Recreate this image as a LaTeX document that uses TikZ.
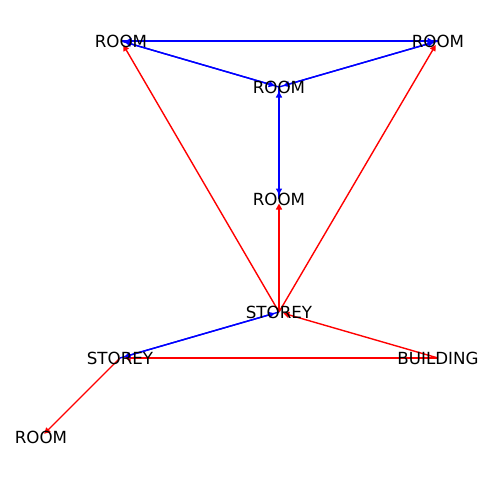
\documentclass[tikz,border=0pt]{standalone}
\usepackage{fontspec}
\setmainfont{DejaVu Sans}
\usetikzlibrary{arrows.meta,backgrounds}

\tikzset{
    lbl/.style={inner sep=0pt, font=\fontsize{16.7}{20}\selectfont},
    edge/.style={line width=1.4pt, shorten >=4.5pt, -{Triangle[length=6pt,width=6pt]}}
}

\begin{document}
\begin{tikzpicture}[x=1pt,y=-1pt]
        \useasboundingbox (0,0) rectangle (480,480);

        % Labels
        \node[lbl] (r1) at (121,41) {ROOM};
        \node[lbl] (r2) at (438,41) {ROOM};
        \node[lbl] (r3) at (279,87) {ROOM};
        \node[lbl] (r4) at (279,199) {ROOM};
        \node[lbl] (s1) at (279,312) {STOREY};
        \node[lbl] (s2) at (120,358) {STOREY};
        \node[lbl] (bld) at (438,358) {BUILDING};
        \node[lbl] (r5) at (41,437) {ROOM};

        % Edges
        \begin{scope}[on background layer]
            \foreach \a/\b in {s1/r1, s1/r2, s1/r4, bld/s1, bld/s2, s2/r5}
                \draw[edge, red] (\a.center) -- (\b.center);
            \foreach \a/\b in {r1/r2, r2/r1, r1/r3, r3/r1, r2/r3, r3/r2, r3/r4, r4/r3, s1/s2, s2/s1}
                \draw[edge, blue] (\a.center) -- (\b.center);
        \end{scope}
    \end{tikzpicture}
\end{document}
